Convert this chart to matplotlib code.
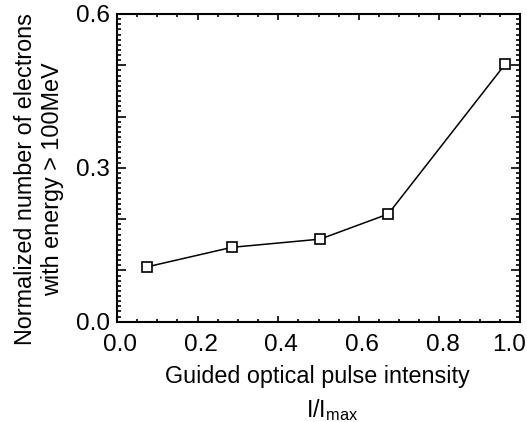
import matplotlib
matplotlib.use("Agg")
import matplotlib.pyplot as plt
from matplotlib.ticker import MultipleLocator, FuncFormatter
from matplotlib.transforms import ScaledTranslation

# Data
intensity = [0.075, 0.285, 0.504, 0.673, 0.964]
electrons = [0.107, 0.145, 0.161, 0.210, 0.503]

x_label = "Guided optical pulse intensity"
x_label2 = r"$\mathregular{I/I_{max}}$"
y_label = "Normalized number of electrons\nwith energy > 100MeV"

plt.rcParams['font.family'] = ['Liberation Sans', 'DejaVu Sans']
plt.rcParams['mathtext.fontset'] = 'custom'
plt.rcParams['mathtext.rm'] = 'Liberation Sans'

W, H = 527, 422
fig = plt.figure(figsize=(W / 100, H / 100), dpi=100)
ax = fig.add_axes([117 / W, 1 - 321.7 / H, (520 - 117) / W, (321.7 - 14) / H])

ax.plot(intensity, electrons, color='black', linewidth=1.1, marker='s',
        markersize=7, markerfacecolor='white', markeredgecolor='black',
        markeredgewidth=1.2)

ax.set_xlim(0, 1.0)
ax.set_ylim(0, 0.6)

ax.xaxis.set_major_locator(MultipleLocator(0.2))
ax.xaxis.set_minor_locator(MultipleLocator(0.05))
ax.yaxis.set_major_locator(MultipleLocator(0.1))
ax.yaxis.set_minor_locator(MultipleLocator(0.01))


def yfmt(v, pos):
    k = round(v * 10)
    if k % 3 == 0:
        return f"{v:.1f}"
    return ""


ax.yaxis.set_major_formatter(FuncFormatter(yfmt))
ax.xaxis.set_major_formatter(FuncFormatter(lambda v, p: f"{v:.1f}"))

ax.tick_params(which='both', direction='in', top=True, right=True,
               labelsize=17.5, width=1.2, colors='black')
ax.tick_params(axis='y', which='major', length=6.5, pad=5)
ax.tick_params(axis='y', which='minor', length=3)
ax.tick_params(axis='x', which='major', length=4, pad=9)
ax.tick_params(axis='x', which='minor', length=2.5)

for s in ax.spines.values():
    s.set_linewidth(1.5)

fig.canvas.draw()
xlabels = ax.get_xticklabels()
for lab in xlabels:
    txt = lab.get_text()
    dx = -11 if txt == "1.0" else 3
    lab.set_transform(lab.get_transform() + ScaledTranslation(dx / 100, 0, fig.dpi_scale_trans))

fig.text(317 / W, 1 - 377 / H, x_label, fontsize=16.8, ha='center', va='center')
fig.text(332 / W, 1 - 410 / H, x_label2, fontsize=16.8, ha='center', va='center')
fig.text(39 / W, 1 - 179 / H, y_label, fontsize=16.8, ha='center', va='center',
         rotation=90, linespacing=1.25, multialignment='center')

fig.savefig("out.png", dpi=100)
